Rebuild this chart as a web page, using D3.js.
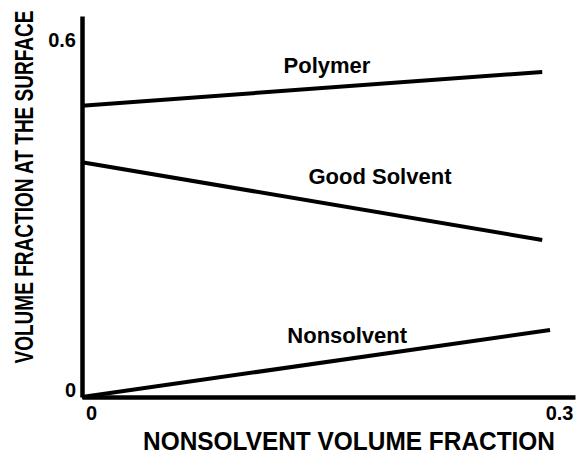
<!DOCTYPE html>
<html>
<head>
<meta charset="utf-8">
<script src="https://cdn.jsdelivr.net/npm/d3@7"></script>
<style>
  body { margin: 0; background: #fff; }
  text { font-family: "Liberation Sans", Arial, sans-serif; font-weight: bold; fill: #000; }
</style>
</head>
<body>
<svg width="579" height="456"></svg>
<script>
// data (x = nonsolvent volume fraction, y = surface volume fraction)
const seriesNames = ['Polymer', 'Good Solvent', 'Nonsolvent'];
const polymer = [[0, 0.50], [0.295, 0.558]];
const goodSolvent = [[0, 0.403], [0.295, 0.2695]];
const nonsolvent = [[0, 0], [0.300, 0.115]];
const xTicks = [0, 0.3];
const yTicks = [0, 0.6];
// label anchors in data units
const labelX = [0.157, 0.191, 0.170];
const labelY = [0.556, 0.366, 0.093];

const svg = d3.select('svg');
const xScale = d3.scaleLinear().domain([0, 0.316]).range([82, 575]);
const yScale = d3.scaleLinear().domain([0, 0.654]).range([397, 16]);

const fmt = d => d === 0 ? '0' : d3.format('.1f')(d);

const gx = svg.append('g')
  .attr('transform', `translate(0,${yScale(0)})`)
  .call(d3.axisBottom(xScale).tickValues(xTicks).tickSize(0).tickPadding(9).tickFormat(fmt))
  .attr('font-size', 20)
  .attr('font-family', '"Liberation Sans", Arial, sans-serif')
  .attr('font-weight', 'bold');
gx.select('.domain').attr('stroke', '#000').attr('stroke-width', 4.5);
gx.selectAll('.tick text').attr('dx', 9);

const gy = svg.append('g')
  .attr('transform', `translate(${xScale(0)},0)`)
  .call(d3.axisLeft(yScale).tickValues(yTicks).tickSize(0).tickPadding(6).tickFormat(fmt))
  .attr('font-size', 20)
  .attr('font-family', '"Liberation Sans", Arial, sans-serif')
  .attr('font-weight', 'bold');
gy.select('.domain').attr('stroke', '#000').attr('stroke-width', 4.5);
gy.selectAll('.tick text').attr('dy', '-0.05em');

const line = d3.line()
  .x(d => xScale(d[0]))
  .y(d => yScale(d[1]));

svg.selectAll('path.series')
  .data([polymer, goodSolvent, nonsolvent])
  .enter()
  .append('path')
    .attr('class', 'series')
    .attr('d', line)
    .attr('fill', 'none')
    .attr('stroke', '#000')
    .attr('stroke-width', 4)
;

svg.selectAll('text.label')
  .data(seriesNames)
  .enter()
  .append('text')
    .attr('class', 'label')
    .attr('x', (d, i) => xScale(labelX[i]))
    .attr('y', (d, i) => yScale(labelY[i]))
    .attr('text-anchor', 'middle')
    .style('font-size', '22px')
    .text(d => d)
;

svg.append('text')
  .attr('x', 349)
  .attr('y', 450)
  .attr('text-anchor', 'middle')
  .attr('textLength', 412)
  .attr('lengthAdjust', 'spacingAndGlyphs')
  .style('font-size', '26px')
  .text('NONSOLVENT VOLUME FRACTION');

svg.append('text')
  .attr('transform', 'translate(33,187) rotate(-90)')
  .attr('text-anchor', 'middle')
  .attr('textLength', 353)
  .attr('lengthAdjust', 'spacingAndGlyphs')
  .style('font-size', '26px')
  .text('VOLUME FRACTION AT THE SURFACE');
</script>
</body>
</html>
